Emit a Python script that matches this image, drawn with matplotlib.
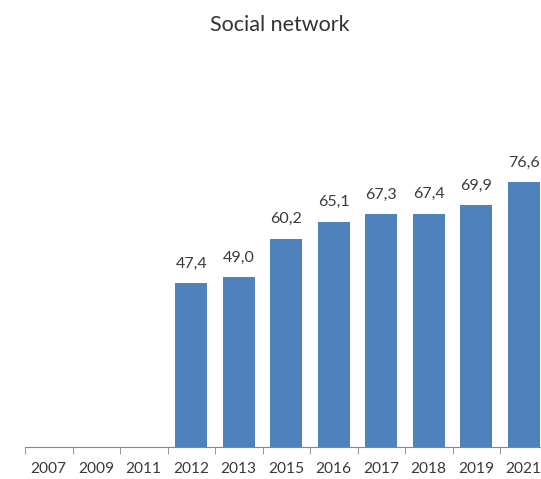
import matplotlib.pyplot as plt
import numpy as np

years = ["2007", "2009", "2011", "2012", "2013", "2015", "2016", "2017", "2018", "2019", "2021"]
share = [np.nan, np.nan, np.nan, 47.4, 49.0, 60.2, 65.1, 67.3, 67.4, 69.9, 76.6]

plt.rcParams['font.family'] = ['Lato', 'DejaVu Sans']

fig = plt.figure(figsize=(5.41, 4.79), dpi=100)
ax = fig.add_axes([25 / 541, 32 / 479, 522.5 / 541, 346 / 479])

x = np.arange(len(years))
vals = np.array(share, dtype=float)
ax.bar(x, np.nan_to_num(vals), width=0.67, color="#4F81BD")

for xi, v in zip(x, vals):
    if np.isnan(v):
        continue
    ax.annotate(f"{v:.1f}".replace(".", ","), (xi, v), xytext=(0, 9),
                textcoords="offset points", ha="center", va="bottom",
                fontsize=11.5, color="#3a3a3a")

ax.set_xlim(-0.5, len(years) - 0.5)
ax.set_ylim(0, 100)
ax.set_xticks(x)
ax.set_xticklabels(years, fontsize=11.2, color="#3a3a3a")
ax.tick_params(axis="x", which="major", length=0, pad=11)
ax.set_xticks(np.arange(len(years) + 1) - 0.5, minor=True)
ax.tick_params(axis="x", which="minor", length=5, color="#868686", direction="out")
ax.set_yticks([])
for s in ["top", "right", "left"]:
    ax.spines[s].set_visible(False)
ax.spines["bottom"].set_color("#868686")

fig.text(280 / 541, 1 - 25 / 479, "Social network", ha="center", va="center",
         fontsize=15.5, color="#333333")

fig.savefig("out.png", dpi=100)
